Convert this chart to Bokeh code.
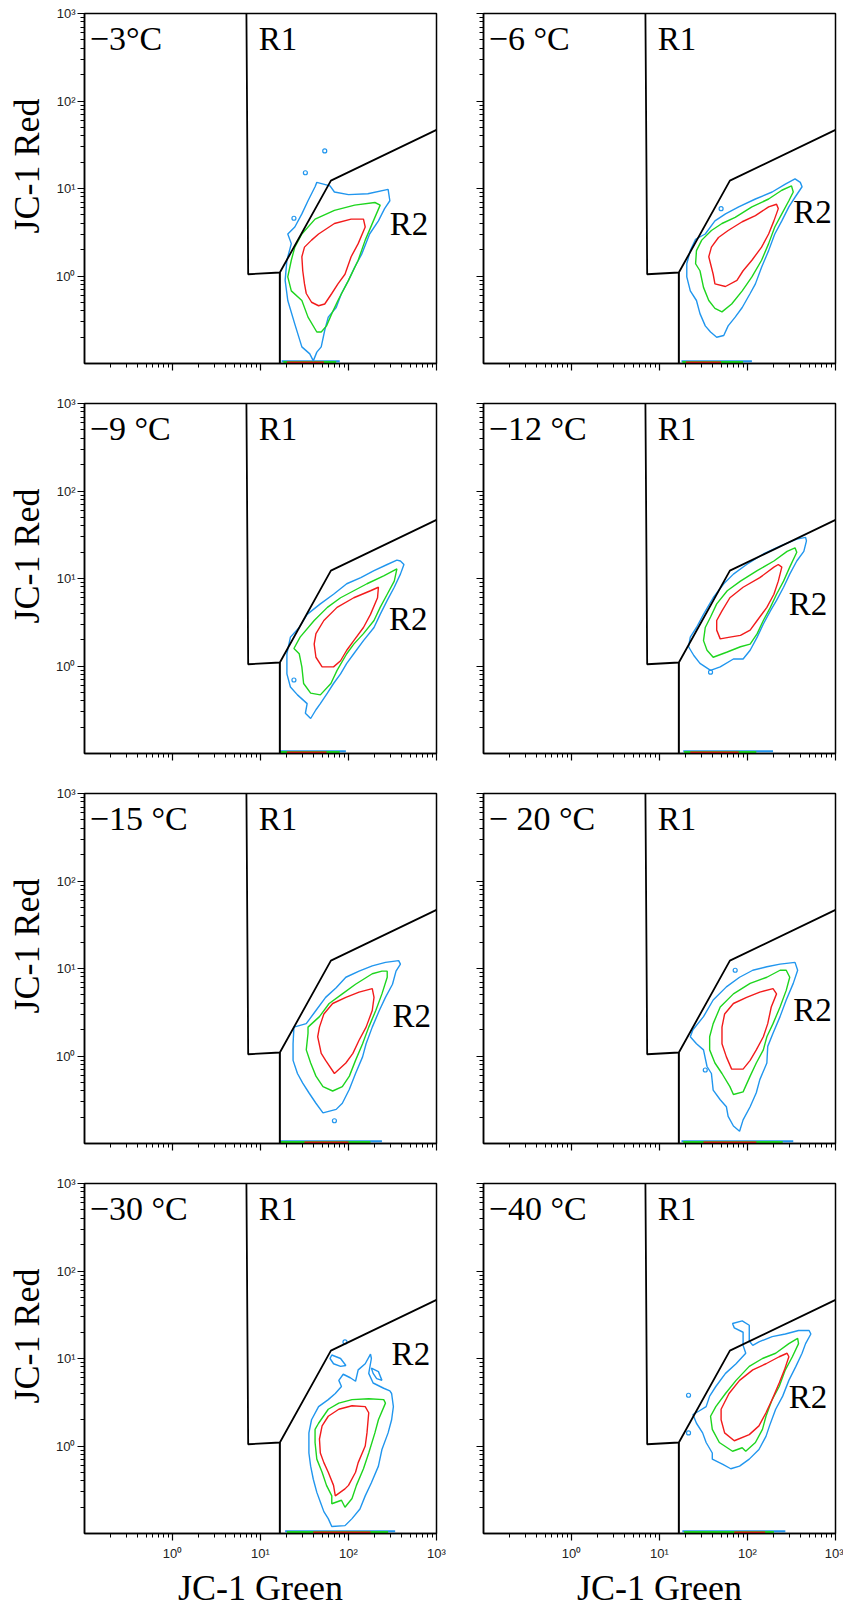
from bokeh.plotting import figure
from bokeh.layouts import column, row
from bokeh.models import Range1d, FixedTicker, CustomJSTickFormatter
from bokeh.core.properties import value
from bokeh.embed import file_html
from bokeh.resources import INLINE

# ---------------- data (all positions in log10 units of JC-1 Green / JC-1 Red) ----------------
TITLES = ["\u22123\u00b0C", "\u22126 \u00b0C", "\u22129 \u00b0C", "\u221212 \u00b0C",
          "\u221215 \u00b0C", "\u2212 20 \u00b0C", "\u221230 \u00b0C", "\u221240 \u00b0C"]
X_LABEL = "JC-1 Green"
Y_LABEL = "JC-1 Red"
MAJOR_TICKS = [1, 10, 100, 1000]
MINOR_TICKS = [m * 10.0 ** e for e in (-1, 0, 1, 2) for m in range(2, 10)]

# gate R1 / R2 boundary (log10 coords)
GATE_LX = [0.84, 0.86, 1.22, 1.80, 3.0]
GATE_LY = [3.0, 0.02, 0.04, 1.09, 1.67]
R2_LEFT_LX = [1.22, 1.22]
R2_LEFT_LY = [0.04, -1.0]
R1_POS = (0.98, 2.71)
TITLE_POS = (-0.94, 2.71)
R2_POS = [(2.47, 0.59), (2.52, 0.73), (2.46, 0.535), (2.47, 0.71),
          (2.50, 0.46), (2.52, 0.53), (2.49, 1.05), (2.47, 0.56)]

P1_BLUE = [(1.64,1.07),(1.79,1.03),(1.84,0.96),(2.00,0.93),(2.22,0.94),(2.45,0.99),(2.47,0.86),(2.41,0.77),(2.34,0.63),(2.24,0.48),(2.15,0.25),(2.07,0.10),(2.00,-0.05),(1.92,-0.20),(1.86,-0.36),(1.77,-0.47),(1.73,-0.62),(1.69,-0.81),(1.64,-0.87),(1.60,-0.97),(1.56,-0.89),(1.47,-0.81),(1.39,-0.55),(1.31,-0.28),(1.28,-0.05),(1.30,0.18),(1.35,0.37),(1.31,0.48),(1.39,0.56),(1.47,0.71),(1.54,0.86),(1.62,1.02)]
P1_GREEN = [(1.62,0.65),(1.84,0.75),(2.07,0.81),(2.30,0.84),(2.36,0.81),(2.30,0.67),(2.19,0.41),(2.11,0.18),(2.00,-0.05),(1.88,-0.28),(1.81,-0.43),(1.75,-0.57),(1.69,-0.64),(1.64,-0.64),(1.54,-0.47),(1.47,-0.28),(1.35,-0.17),(1.31,-0.01),(1.35,0.18),(1.39,0.33),(1.47,0.48)]
P1_RED = [(1.66,0.48),(1.84,0.60),(2.03,0.65),(2.17,0.65),(2.19,0.56),(2.11,0.37),(2.03,0.22),(1.96,0.02),(1.88,-0.09),(1.81,-0.20),(1.73,-0.32),(1.66,-0.34),(1.58,-0.30),(1.52,-0.20),(1.50,-0.09),(1.48,0.06),(1.47,0.22),(1.50,0.33),(1.58,0.41)]

P2_BLUE = [(2.60,1.07),(2.62,1.02),(2.54,0.90),(2.47,0.79),(2.39,0.63),(2.31,0.48),(2.24,0.29),(2.16,0.10),(2.09,-0.09),(2.03,-0.20),(1.94,-0.36),(1.86,-0.47),(1.78,-0.57),(1.73,-0.68),(1.65,-0.70),(1.58,-0.64),(1.52,-0.57),(1.46,-0.43),(1.42,-0.28),(1.35,-0.17),(1.31,-0.01),(1.31,0.14),(1.35,0.29),(1.41,0.42),(1.52,0.48),(1.63,0.63),(1.75,0.71),(1.90,0.79),(2.09,0.88),(2.28,0.96),(2.43,1.05),(2.54,1.11)]
P2_GREEN = [(2.50,1.03),(2.52,0.96),(2.47,0.86),(2.39,0.71),(2.31,0.56),(2.24,0.37),(2.16,0.18),(2.05,-0.01),(1.94,-0.17),(1.82,-0.32),(1.71,-0.41),(1.63,-0.37),(1.56,-0.28),(1.50,-0.13),(1.46,0.06),(1.41,0.14),(1.42,0.29),(1.48,0.41),(1.59,0.52),(1.71,0.60),(1.86,0.67),(2.05,0.79),(2.24,0.88),(2.39,0.98)]
P2_RED = [(2.33,0.82),(2.35,0.77),(2.30,0.63),(2.24,0.48),(2.16,0.33),(2.05,0.18),(1.95,0.06),(1.88,-0.05),(1.75,-0.12),(1.63,-0.09),(1.61,0.02),(1.58,0.14),(1.56,0.22),(1.59,0.33),(1.67,0.44),(1.78,0.52),(1.94,0.62),(2.09,0.69),(2.24,0.79)]

P3_BLUE = [(2.59,1.20),(2.63,1.16),(2.59,1.05),(2.52,0.90),(2.44,0.75),(2.36,0.59),(2.29,0.44),(2.17,0.29),(2.06,0.14),(1.98,0.03),(1.91,-0.09),(1.83,-0.20),(1.76,-0.31),(1.68,-0.43),(1.63,-0.50),(1.57,-0.60),(1.51,-0.54),(1.53,-0.43),(1.42,-0.33),(1.34,-0.24),(1.30,-0.09),(1.30,0.14),(1.34,0.33),(1.44,0.44),(1.53,0.59),(1.68,0.71),(1.83,0.82),(1.98,0.94),(2.14,1.01),(2.29,1.09),(2.44,1.16),(2.55,1.21)]
P3_GREEN = [(2.55,1.11),(2.52,0.97),(2.44,0.82),(2.36,0.67),(2.29,0.52),(2.17,0.37),(2.06,0.25),(1.98,0.14),(1.87,-0.05),(1.80,-0.20),(1.68,-0.33),(1.57,-0.31),(1.49,-0.20),(1.47,-0.01),(1.44,0.14),(1.38,0.20),(1.45,0.33),(1.61,0.52),(1.76,0.67),(1.91,0.78),(2.06,0.86),(2.21,0.94),(2.40,1.03)]
P3_RED = [(2.34,0.90),(2.33,0.78),(2.25,0.59),(2.17,0.44),(2.06,0.29),(1.98,0.18),(1.91,0.06),(1.83,-0.01),(1.70,-0.01),(1.63,0.10),(1.61,0.25),(1.63,0.37),(1.72,0.52),(1.87,0.67),(2.06,0.78),(2.25,0.86)]

P4_BLUE = [(2.66,1.47),(2.67,1.43),(2.64,1.31),(2.56,1.20),(2.48,1.05),(2.41,0.90),(2.33,0.75),(2.26,0.63),(2.18,0.48),(2.11,0.33),(2.03,0.18),(1.95,0.08),(1.84,0.08),(1.69,-0.01),(1.58,-0.05),(1.46,0.03),(1.39,0.12),(1.33,0.22),(1.35,0.33),(1.42,0.44),(1.50,0.59),(1.61,0.78),(1.73,0.94),(1.84,1.05),(1.99,1.16),(2.18,1.28),(2.37,1.37),(2.56,1.45)]
P4_GREEN = [(2.54,1.35),(2.56,1.30),(2.48,1.13),(2.41,0.97),(2.33,0.82),(2.26,0.67),(2.18,0.52),(2.11,0.37),(2.03,0.25),(1.92,0.22),(1.77,0.16),(1.61,0.10),(1.54,0.18),(1.50,0.29),(1.52,0.44),(1.58,0.56),(1.65,0.71),(1.77,0.86),(1.92,0.97),(2.11,1.09),(2.30,1.20),(2.45,1.31)]
P4_RED = [(2.35,1.16),(2.39,1.13),(2.35,0.97),(2.30,0.82),(2.22,0.67),(2.11,0.52),(2.03,0.41),(1.92,0.35),(1.80,0.33),(1.69,0.31),(1.65,0.41),(1.65,0.52),(1.71,0.63),(1.80,0.78),(1.95,0.90),(2.14,1.01),(2.30,1.13)]

P5_BLUE = [(2.57,1.09),(2.59,1.05),(2.54,0.97),(2.50,0.82),(2.42,0.67),(2.35,0.52),(2.27,0.33),(2.20,0.14),(2.16,-0.01),(2.08,-0.20),(2.01,-0.38),(1.93,-0.54),(1.86,-0.61),(1.71,-0.65),(1.63,-0.54),(1.55,-0.42),(1.48,-0.31),(1.42,-0.20),(1.37,-0.05),(1.37,0.14),(1.38,0.33),(1.52,0.37),(1.63,0.52),(1.74,0.67),(1.86,0.78),(1.97,0.90),(2.12,0.97),(2.27,1.03),(2.42,1.07)]
P5_GREEN = [(2.44,0.97),(2.44,0.90),(2.38,0.71),(2.31,0.52),(2.23,0.33),(2.16,0.14),(2.08,-0.05),(2.01,-0.23),(1.93,-0.35),(1.82,-0.40),(1.71,-0.35),(1.63,-0.23),(1.57,-0.08),(1.52,0.07),(1.54,0.26),(1.54,0.33),(1.67,0.45),(1.78,0.60),(1.93,0.71),(2.08,0.82),(2.27,0.94),(2.38,0.97)]
P5_RED = [(2.27,0.77),(2.29,0.67),(2.27,0.52),(2.20,0.33),(2.12,0.18),(2.05,0.03),(1.97,-0.08),(1.84,-0.20),(1.74,-0.05),(1.69,0.03),(1.65,0.22),(1.67,0.33),(1.72,0.48),(1.82,0.60),(1.97,0.67),(2.12,0.73)]

P6_BLUE = [(2.54,1.07),(2.57,0.98),(2.52,0.83),(2.44,0.64),(2.37,0.45),(2.29,0.26),(2.23,0.11),(2.22,-0.08),(2.14,-0.27),(2.10,-0.42),(2.03,-0.58),(1.95,-0.73),(1.91,-0.86),(1.84,-0.80),(1.78,-0.69),(1.76,-0.58),(1.69,-0.50),(1.61,-0.39),(1.59,-0.20),(1.54,-0.12),(1.50,0.07),(1.42,0.14),(1.35,0.22),(1.38,0.30),(1.50,0.45),(1.61,0.64),(1.76,0.79),(1.91,0.90),(2.06,0.98),(2.22,1.02),(2.37,1.05)]
P6_GREEN = [(2.44,0.98),(2.48,0.90),(2.44,0.75),(2.37,0.56),(2.29,0.37),(2.22,0.22),(2.18,0.07),(2.10,-0.08),(2.03,-0.23),(1.95,-0.41),(1.84,-0.44),(1.80,-0.35),(1.71,-0.20),(1.63,-0.08),(1.57,0.07),(1.57,0.22),(1.61,0.37),(1.69,0.56),(1.84,0.71),(2.03,0.83),(2.22,0.90),(2.37,0.98)]
P6_RED = [(2.29,0.77),(2.33,0.71),(2.27,0.56),(2.23,0.37),(2.18,0.22),(2.10,0.07),(2.03,-0.05),(1.95,-0.15),(1.82,-0.15),(1.76,-0.01),(1.71,0.14),(1.71,0.33),(1.74,0.48),(1.84,0.60),(1.99,0.67),(2.14,0.73)]

P7_BLUE = [(2.49,0.60),(2.51,0.45),(2.49,0.30),(2.45,0.15),(2.38,-0.04),(2.34,-0.23),(2.26,-0.42),(2.19,-0.57),(2.13,-0.72),(2.04,-0.83),(1.96,-0.91),(1.81,-0.92),(1.77,-0.83),(1.72,-0.75),(1.68,-0.64),(1.64,-0.53),(1.60,-0.38),(1.57,-0.23),(1.55,-0.08),(1.55,0.15),(1.58,0.30),(1.66,0.45),(1.77,0.53),(1.85,0.60),(1.92,0.68),(1.89,0.75),(1.94,0.82),(2.02,0.78),(2.08,0.74),(2.11,0.87),(2.19,0.94),(2.25,1.05),(2.26,1.00),(2.23,0.83),(2.28,0.72),(2.40,0.66),(2.47,0.63)]
P7_LOOP_A = [(1.81,1.04),(1.91,1.00),(1.97,0.92),(1.91,0.91),(1.83,0.94),(1.79,1.00)]
P7_LOOP_B = [(2.26,0.89),(2.34,0.85),(2.38,0.75),(2.32,0.77),(2.28,0.83)]
P7_GREEN = [(2.40,0.53),(2.42,0.49),(2.34,0.30),(2.30,0.15),(2.23,-0.08),(2.17,-0.26),(2.09,-0.45),(2.04,-0.60),(1.96,-0.70),(1.92,-0.62),(1.81,-0.66),(1.81,-0.57),(1.75,-0.45),(1.70,-0.30),(1.64,-0.15),(1.62,0.04),(1.62,0.19),(1.66,0.26),(1.77,0.42),(1.89,0.49),(2.04,0.53),(2.23,0.54)]
P7_RED = [(2.19,0.45),(2.23,0.38),(2.21,0.15),(2.19,0.00),(2.11,-0.19),(2.08,-0.30),(2.00,-0.45),(1.96,-0.49),(1.85,-0.57),(1.83,-0.45),(1.77,-0.30),(1.72,-0.19),(1.68,-0.08),(1.67,0.08),(1.70,0.23),(1.77,0.34),(1.89,0.42),(2.04,0.46)]

P8_BLUE = [(2.70,1.32),(2.72,1.28),(2.66,1.17),(2.62,1.06),(2.55,0.91),(2.47,0.75),(2.40,0.57),(2.32,0.42),(2.25,0.23),(2.21,0.11),(2.13,-0.04),(2.02,-0.15),(1.91,-0.23),(1.81,-0.26),(1.72,-0.21),(1.60,-0.15),(1.60,-0.08),(1.53,0.04),(1.49,0.15),(1.42,0.26),(1.38,0.36),(1.45,0.40),(1.53,0.45),(1.57,0.57),(1.64,0.68),(1.75,0.83),(1.87,0.94),(1.98,1.06),(1.95,1.15),(1.95,1.30),(1.85,1.35),(1.83,1.40),(1.94,1.43),(2.02,1.38),(2.02,1.20),(2.06,1.15),(2.13,1.19),(2.28,1.25),(2.43,1.28),(2.58,1.32)]
P8_GREEN = [(2.57,1.23),(2.58,1.17),(2.51,1.02),(2.43,0.87),(2.36,0.68),(2.28,0.53),(2.21,0.34),(2.17,0.19),(2.09,0.04),(1.98,-0.06),(1.94,-0.02),(1.83,-0.06),(1.68,0.04),(1.60,0.19),(1.58,0.34),(1.64,0.45),(1.75,0.60),(1.87,0.75),(2.02,0.91),(2.17,1.00),(2.32,1.06),(2.47,1.17)]
P8_RED = [(2.45,1.06),(2.47,1.02),(2.42,0.87),(2.36,0.72),(2.28,0.53),(2.21,0.38),(2.13,0.23),(2.02,0.13),(1.85,0.06),(1.74,0.15),(1.70,0.30),(1.70,0.42),(1.79,0.60),(1.91,0.75),(2.06,0.87),(2.21,0.94),(2.36,1.02)]

BLUE_LOOPS = [[], [], [], [], [], [], [P7_LOOP_A, P7_LOOP_B], []]
BLUE_DOTS = [[(1.73,1.43),(1.51,1.18),(1.38,0.66)], [(1.70,0.77)], [(1.38,-0.16)], [(1.58,-0.07)],
             [(1.84,-0.74)], [(1.86,0.98),(1.52,-0.16)], [(1.96,1.19)], [(1.33,0.58),(1.33,0.15)]]
# debris pile-up along the lower edge: (start, end) in log10 green for blue / green / red levels
PILE_BLUE = [(1.24,1.90),(1.25,2.05),(1.21,1.97),(1.27,2.29),(1.21,2.38),(1.25,2.52),(1.28,2.53),(1.26,2.43)]
PILE_GREEN = [(1.26,1.86),(1.26,1.95),(1.23,1.90),(1.28,2.10),(1.23,2.25),(1.27,2.40),(1.30,2.45),(1.28,2.30)]
PILE_RED = [(1.30,1.72),(1.30,1.70),(1.30,1.75),(1.35,1.90),(1.50,2.00),(1.50,2.10),(1.60,2.25),(1.85,2.20)]

BLUES = [P1_BLUE, P2_BLUE, P3_BLUE, P4_BLUE, P5_BLUE, P6_BLUE, P7_BLUE, P8_BLUE]
GREENS = [P1_GREEN, P2_GREEN, P3_GREEN, P4_GREEN, P5_GREEN, P6_GREEN, P7_GREEN, P8_GREEN]
REDS = [P1_RED, P2_RED, P3_RED, P4_RED, P5_RED, P6_RED, P7_RED, P8_RED]

C_BLUE = "#2196EE"
C_GREEN = "#1ED51E"
C_RED = "#F21B1B"
SERIF = "Liberation Serif"

def lin(v):
    return 10.0 ** v

def poly_xy(pts):
    return [lin(a) for a, _ in pts], [lin(b) for _, b in pts]

SUP = CustomJSTickFormatter(code="""
    const e = Math.round(Math.log10(tick));
    const s = {'-1':'\u207b\u00b9','0':'\u2070','1':'\u00b9','2':'\u00b2','3':'\u00b3'};
    return '10' + (s[String(e)] ?? e);
""")
BLANK = CustomJSTickFormatter(code="return '';")

def make_panel(i):
    left = (i % 2 == 0)
    bottom = (i >= 6)
    p = figure(x_axis_type="log", y_axis_type="log",
               x_range=Range1d(0.1, 1000), y_range=Range1d(0.1, 1000),
               frame_width=352, frame_height=350, title=None,
               output_backend="svg", toolbar_location=None,
               min_border_left=84 if left else 37, min_border_right=10 if left else 8,
               min_border_top=13, min_border_bottom=74 if bottom else 27,
               background_fill_color="white", border_fill_color="white")
    p.grid.visible = False
    p.outline_line_color = "black"
    p.outline_line_width = 1.5
    for ax in (p.xaxis[0], p.yaxis[0]):
        ax.ticker = FixedTicker(ticks=MAJOR_TICKS, minor_ticks=MINOR_TICKS)
        ax.axis_line_color = "black"
        ax.axis_line_width = 1.5
        ax.major_tick_line_color = "black"
        ax.major_tick_line_width = 1.2
        ax.major_tick_out = 7
        ax.major_tick_in = 0
        ax.minor_tick_line_color = "black"
        ax.minor_tick_line_width = 1
        ax.minor_tick_out = 4
        ax.minor_tick_in = 0
        ax.major_label_text_font = "Liberation Sans"
        ax.major_label_text_font_size = "13px"
        ax.major_label_text_color = "#222222"
        ax.axis_label_text_font = SERIF
        ax.axis_label_text_font_size = "36px"
        ax.axis_label_text_font_style = "normal"
        ax.axis_label_text_color = "black"
    p.yaxis[0].major_label_standoff = 2
    p.yaxis[0].axis_label_standoff = 6
    p.xaxis[0].major_label_standoff = 5
    p.xaxis[0].axis_label_standoff = 4
    p.yaxis[0].formatter = SUP if left else BLANK
    p.xaxis[0].formatter = SUP if bottom else BLANK
    if left:
        p.yaxis[0].axis_label = "\u00a0\u00a0\u00a0\u00a0\u00a0" + Y_LABEL
    if bottom:
        p.xaxis[0].axis_label = X_LABEL

    # pile-up of events at lower edge
    for rng, col, ly in ((PILE_BLUE[i], C_BLUE, -0.975), (PILE_GREEN[i], C_GREEN, -0.982), (PILE_RED[i], C_RED, -0.988)):
        p.line([lin(rng[0]), lin(rng[1])], [lin(ly), lin(ly)], line_color=col, line_width=2)

    # contours
    polys = [(BLUES[i], C_BLUE)] + [(lp, C_BLUE) for lp in BLUE_LOOPS[i]] + [(GREENS[i], C_GREEN), (REDS[i], C_RED)]
    xs, ys, cols = [], [], []
    for pts, col in polys:
        x, y = poly_xy(pts)
        xs.append(x); ys.append(y); cols.append(col)
    p.patches(xs=xs, ys=ys, fill_color=None, line_color=cols, line_width=1.4)
    dx, dy = poly_xy(BLUE_DOTS[i])
    p.scatter(dx, dy, marker="circle", size=4, fill_color=None, line_color=C_BLUE, line_width=1.2)

    # gates
    gx, gy = poly_xy(list(zip(GATE_LX, GATE_LY)))
    p.line(gx, gy, line_color="black", line_width=1.8)
    rx, ry = poly_xy(list(zip(R2_LEFT_LX, R2_LEFT_LY)))
    p.line(rx, ry, line_color="black", line_width=2)

    # labels
    p.text(x=[lin(TITLE_POS[0])], y=[lin(TITLE_POS[1])], text=[TITLES[i]],
           text_font=value(SERIF), text_font_size="34px", text_color="black",
           text_baseline="alphabetic", text_align="left")
    p.text(x=[lin(R1_POS[0])], y=[lin(R1_POS[1])], text=["R1"],
           text_font=value(SERIF), text_font_size="33px", text_color="black",
           text_baseline="alphabetic", text_align="left")
    p.text(x=[lin(R2_POS[i][0])], y=[lin(R2_POS[i][1])], text=["R2"],
           text_font=value(SERIF), text_font_size="33px", text_color="black",
           text_baseline="alphabetic", text_align="left")
    return p

panels = [make_panel(i) for i in range(8)]
layout = column(row(panels[0], panels[1]), row(panels[2], panels[3]),
                row(panels[4], panels[5]), row(panels[6], panels[7]))

open("out.html", "w").write(file_html(layout, INLINE))
